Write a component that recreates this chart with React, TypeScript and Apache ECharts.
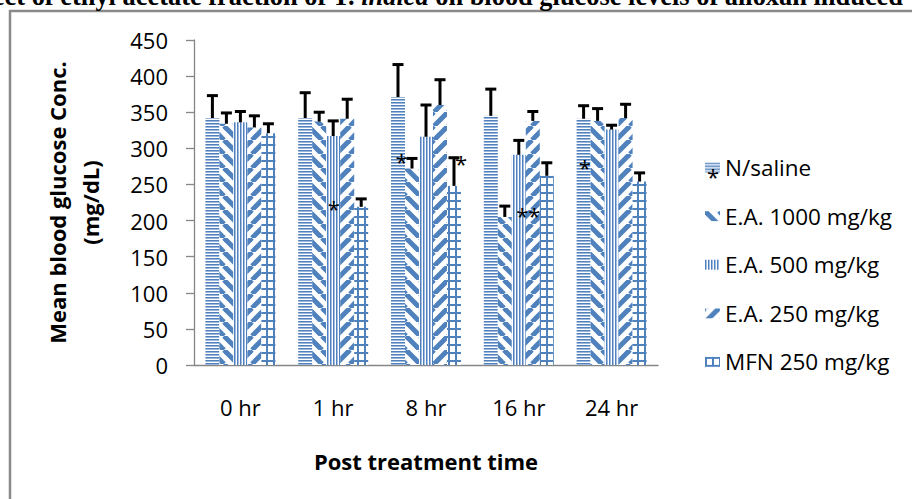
import React, { useEffect, useRef } from "react";
import * as echarts from "echarts";

const categories = ["0 hr", "1 hr", "8 hr", "16 hr", "24 hr"];
const seriesNames = ["N/saline", "E.A. 1000 mg/kg", "E.A. 500 mg/kg", "E.A. 250 mg/kg", "MFN 250 mg/kg"];

const saline = [342, 342, 371, 345, 341];
const salineErr = [31, 35, 45, 37, 18];
const ea1000 = [334, 337, 272, 205, 338];
const ea1000Err = [15, 13, 14, 15, 17];
const ea500 = [336, 317, 316, 291, 326];
const ea500Err = [15, 21, 44, 20, 6];
const ea250 = [329, 341, 360, 338, 342];
const ea250Err = [16, 27, 35, 13, 19];
const mfn = [321, 219, 248, 262, 254];
const mfnErr = [13, 11, 39, 18, 12];

// significance asterisks: [category index, bar slot within group, value]
const stars = [
  [1, 2.04, 221],
  [2, 0.25, 286],
  [2, 4.51, 284],
  [3, 2.25, 212],
  [3, 3.1, 212],
  [4, 0.09, 279],
];

const yTicks = { min: 0, max: 450, interval: 50 };

const BLUE = "#4F81BD";
const BAR_W = 14;

function tile(w: number, h: number, draw: (ctx: CanvasRenderingContext2D) => void) {
  const c = document.createElement("canvas");
  c.width = w;
  c.height = h;
  const ctx = c.getContext("2d") as CanvasRenderingContext2D;
  ctx.fillStyle = "#ffffff";
  ctx.fillRect(0, 0, w, h);
  draw(ctx);
  return { image: c, repeat: "repeat", imageWidth: w, imageHeight: h };
}

function makePatterns() {
  const horiz = tile(4, 3, (ctx) => {
    ctx.fillStyle = BLUE;
    ctx.fillRect(0, 0, 4, 1);
    ctx.fillStyle = "#9DB7DB";
    ctx.fillRect(0, 1, 4, 1);
  });
  const diagDown = tile(14, 14, (ctx) => {
    ctx.strokeStyle = BLUE;
    ctx.lineWidth = 5;
    for (const k of [-14, 0, 14]) {
      ctx.beginPath();
      ctx.moveTo(k, 0);
      ctx.lineTo(k + 14, 14);
      ctx.stroke();
    }
  });
  const vert = tile(3, 4, (ctx) => {
    ctx.fillStyle = BLUE;
    ctx.fillRect(0, 0, 1, 4);
    ctx.fillStyle = "#A3BCE0";
    ctx.fillRect(1, 0, 1, 4);
  });
  const diagUp = tile(14, 14, (ctx) => {
    ctx.strokeStyle = BLUE;
    ctx.lineWidth = 5;
    for (const k of [-14, 0, 14]) {
      ctx.beginPath();
      ctx.moveTo(k, 14);
      ctx.lineTo(k + 14, 0);
      ctx.stroke();
    }
  });
  const grid = tile(7, 8, (ctx) => {
    ctx.fillStyle = BLUE;
    ctx.fillRect(0, 0, 7, 2);
    ctx.fillRect(0, 0, 2, 8);
  });
  return [horiz, diagDown, vert, diagUp, grid];
}

export default function App() {
  const ref = useRef<HTMLDivElement>(null);

  useEffect(() => {
    if (!ref.current) return;
    const chart = echarts.init(ref.current, null, { renderer: "svg" });
    const patterns = makePatterns();
    const values = [saline, ea1000, ea500, ea250, mfn];
    const errs = [salineErr, ea1000Err, ea500Err, ea250Err, mfnErr];

    const errData: number[][] = [];
    values.forEach((arr, s) => {
      arr.forEach((v, c) => errData.push([c, s, v, errs[s][c]]));
    });

    const barSeries = seriesNames.map((name, i) => ({
      name,
      type: "bar",
      data: values[i],
      barWidth: BAR_W,
      barGap: "0%",
      itemStyle: { color: patterns[i] as any },
      z: 2,
    }));

    const option: any = {
      animation: false,
      textStyle: { fontFamily: "Open Sans" },
      grid: { left: 194, right: 254, top: 40, bottom: 134 },
      legend: {
        orient: "vertical",
        left: 700,
        top: 151,
        itemWidth: 15,
        itemHeight: 10,
        itemGap: 25.6,
        icon: "rect",
        selectedMode: false,
        data: seriesNames,
        textStyle: { fontSize: 22.5, color: "#000", fontFamily: "Open Sans", lineHeight: 22 },
      },
      xAxis: {
        type: "category",
        data: categories,
        axisLine: { lineStyle: { color: "#868686", width: 1.3 } },
        axisTick: { length: 7, lineStyle: { color: "#868686", width: 1.3 } },
        axisLabel: { fontSize: 22, color: "#000", margin: 31, fontFamily: "Open Sans" },
        name: "Post treatment time",
        nameLocation: "middle",
        nameGap: 85,
        nameTextStyle: { fontSize: 22, fontWeight: "bold", color: "#000", fontFamily: "Open Sans" },
      },
      yAxis: {
        type: "value",
        min: yTicks.min,
        max: yTicks.max,
        interval: yTicks.interval,
        splitLine: { show: false },
        axisLine: { show: true, lineStyle: { color: "#868686", width: 1.3 } },
        axisTick: { show: true, length: 8, lineStyle: { color: "#868686", width: 1.3 } },
        axisLabel: { fontSize: 22, color: "#000", margin: 26, fontFamily: "Open Sans" },
        name: "Mean blood glucose Conc.\n(mg/dL)",
        nameLocation: "middle",
        nameRotate: 90,
        nameGap: 88,
        nameTextStyle: { fontSize: 22, fontWeight: "bold", color: "#000", lineHeight: 33, fontFamily: "Open Sans" },
      },
      graphic: [
        {
          type: "rect",
          z: -10,
          shape: { x: 10, y: 11, width: 1400, height: 1000 },
          style: { fill: "none", stroke: "#8A8A8A", lineWidth: 2.5 },
        },
        {
          type: "text",
          z: 10,
          style: {
            text: "Effect of ethyl acetate fraction of T. {i|indica} on blood glucose levels of alloxan induced",
            x: 903,
            y: -4.5,
            align: "right",
            verticalAlign: "middle",
            fontFamily: "Liberation Serif",
            fontWeight: "bold",
            fontSize: 26.4,
            fill: "#000",
            rich: {
              i: { fontFamily: "Liberation Serif", fontWeight: "bold", fontStyle: "italic", fontSize: 26.4, fill: "#000" },
            },
          },
        },
        {
          type: "text",
          z: 10,
          style: {
            text: "*",
            x: 713,
            y: 176,
            align: "center",
            verticalAlign: "middle",
            fontFamily: "Open Sans",
            fontSize: 22,
            fill: "#000",
          },
        },
      ],
      series: [
        ...barSeries,
        {
          type: "custom",
          name: "err",
          data: errData,
          encode: { x: 0, y: 2 },
          z: 5,
          renderItem: (_p: any, api: any) => {
            const cat = api.value(0);
            const s = api.value(1);
            const m = api.value(2);
            const e = api.value(3);
            const p0 = api.coord([cat, m]);
            const p1 = api.coord([cat, m + e]);
            const x = p0[0] + (s - 2) * BAR_W;
            return {
              type: "group",
              children: [
                { type: "line", shape: { x1: x, y1: p0[1], x2: x, y2: p1[1] }, style: { stroke: "#000", lineWidth: 3 } },
                { type: "line", shape: { x1: x - 5.5, y1: p1[1], x2: x + 5.5, y2: p1[1] }, style: { stroke: "#000", lineWidth: 3 } },
              ],
            };
          },
        },
        {
          type: "custom",
          name: "stars",
          data: stars,
          encode: { x: 0, y: 2 },
          z: 6,
          renderItem: (_p: any, api: any) => {
            const p = api.coord([api.value(0), api.value(2)]);
            const x = p[0] + (api.value(1) - 2) * BAR_W;
            return {
              type: "text",
              style: {
                text: "*",
                x,
                y: p[1] + 3,
                align: "center",
                verticalAlign: "middle",
                fontFamily: "Open Sans",
                fontSize: 22,
                fill: "#000",
              },
            };
          },
        },
      ],
    };
    chart.setOption(option);
    return () => chart.dispose();
  }, []);

  return <div ref={ref} style={{ width: 912, height: 499, position: "absolute", left: 0, top: 0, background: "#fff" }} />;
}
